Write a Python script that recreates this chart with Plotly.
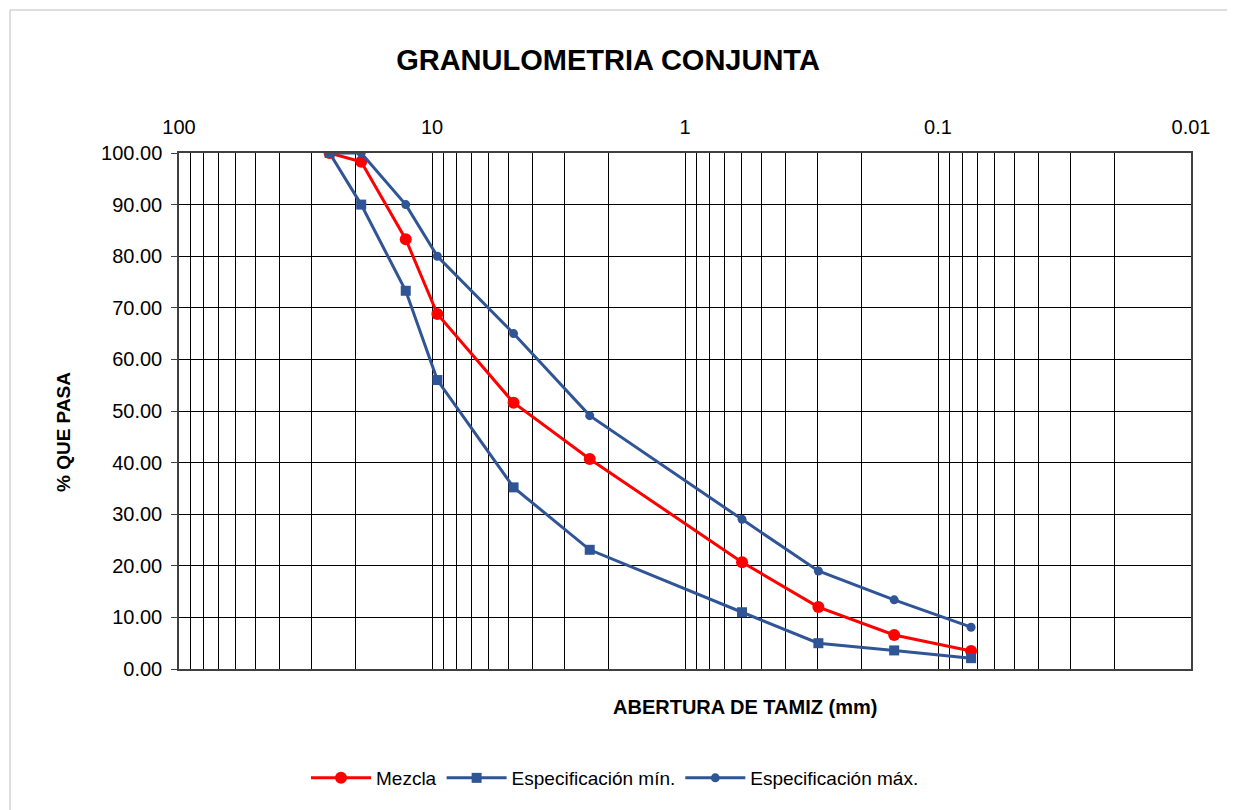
import plotly.graph_objects as go

# ---- data ----
sieve_mm = [25.4, 19.05, 12.7, 9.525, 4.76, 2.38, 0.595, 0.297, 0.149, 0.074]
mezcla = [100.0, 98.3, 83.3, 68.8, 51.6, 40.7, 20.7, 12.0, 6.6, 3.5]
spec_min = [100.0, 90.0, 73.3, 56.0, 35.2, 23.1, 11.0, 5.0, 3.6, 2.1]
spec_max = [100.0, 100.0, 90.0, 80.0, 65.0, 49.1, 29.0, 19.0, 13.4, 8.1]

major_ticks = [100, 10, 1, 0.1, 0.01]
major_labels = ["100", "10", "1", "0.1", "0.01"]

RED = "#FF0000"
BLUE = "#2F5597"
FONT = "Liberation Sans, Arial, sans-serif"

# x tick positions: full log grid, labels only at decades
tickvals, ticktext = [], []
for m, lab in zip(major_ticks, major_labels):
    for d in range(1, 10):
        v = m * d
        if v > 100 + 1e-9:
            continue
        tickvals.append(v)
        ticktext.append(lab if d == 1 else "")

fig = go.Figure()
fig.add_trace(go.Scatter(x=sieve_mm, y=mezcla, name="Mezcla", mode="lines+markers",
                         line=dict(color=RED, width=3),
                         marker=dict(symbol="circle", size=12, color=RED)))
fig.add_trace(go.Scatter(x=sieve_mm, y=spec_min, name="Especificación mín.", mode="lines+markers",
                         line=dict(color=BLUE, width=3),
                         marker=dict(symbol="square", size=10, color=BLUE)))
fig.add_trace(go.Scatter(x=sieve_mm, y=spec_max, name="Especificación máx.", mode="lines+markers",
                         line=dict(color=BLUE, width=3),
                         marker=dict(symbol="circle", size=9, color=BLUE)))

OFF = 8  # page body margin
W, H = 1235 - OFF, 810 - OFF
L, T = 179 - OFF, 153 - OFF
R = W - (1191 - OFF)
B = H - (669 - OFF)
pw, ph = W - L - R, H - T - B

def px(xpix):  # reference pixel -> paper x
    return (xpix - 179) / pw

def py(ypix):  # reference pixel -> paper y
    return (669 - ypix) / ph

fig.update_layout(
    width=W, height=H,
    margin=dict(l=L, r=R, t=T, b=B),
    paper_bgcolor="white", plot_bgcolor="white",
    font=dict(family=FONT, color="#000000", size=16),
    title=dict(text="<b>GRANULOMETRIA CONJUNTA</b>", font=dict(size=29, family=FONT, color="#000"),
               xref="paper", x=px(608), xanchor="center", y=1 - (60 - OFF) / H, yanchor="middle"),
    showlegend=True,
    legend=dict(orientation="h", x=px(615), xanchor="center", y=py(778), yanchor="middle",
                font=dict(size=19, family=FONT), itemwidth=60, traceorder="normal",
                bgcolor="rgba(0,0,0,0)"),
    xaxis=dict(type="log", range=[2, -2], side="top",
               tickvals=tickvals, ticktext=ticktext, tickangle=0,
               showgrid=True, gridcolor="#000000", gridwidth=1,
               ticks="", ticklabelstandoff=9,
               tickfont=dict(size=20, family=FONT),
               showline=True, linecolor="#404040", linewidth=1.5, mirror=True, zeroline=False),
    yaxis=dict(range=[0, 100], dtick=10, tick0=0, tickformat=".2f",
               showgrid=True, gridcolor="#000000", gridwidth=1,
               ticks="outside", ticklen=6, tickcolor="#404040", ticklabelstandoff=5,
               tickfont=dict(size=20, family=FONT),
               showline=True, linecolor="#404040", linewidth=1.5, mirror=True, zeroline=False),
    annotations=[
        dict(text="<b>ABERTURA DE TAMIZ (mm)</b>", xref="paper", yref="paper",
             x=px(745), y=py(707), xanchor="center", yanchor="middle", showarrow=False,
             font=dict(size=20, family=FONT)),
        dict(text="<b>% QUE PASA</b>", xref="paper", yref="paper", textangle=-90,
             x=px(63), y=py(432), xanchor="center", yanchor="middle", showarrow=False,
             font=dict(size=19, family=FONT)),
    ],
    shapes=[dict(type="rect", xref="paper", yref="paper",
                 x0=px(10), x1=px(1232), y0=py(830), y1=py(10),
                 line=dict(color="#BFBFBF", width=1), fillcolor="rgba(0,0,0,0)", layer="below")],
)

fig.write_html("out.html")
